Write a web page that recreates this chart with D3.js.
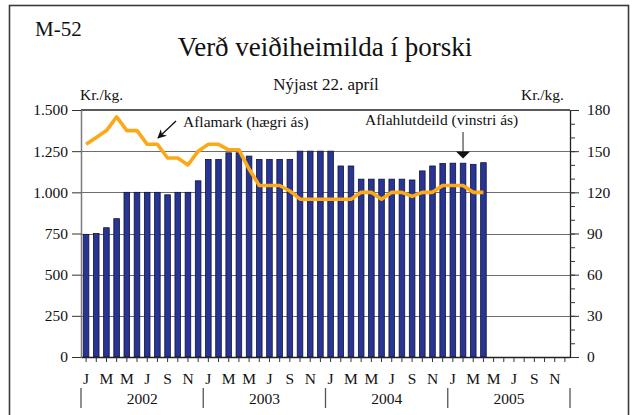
<!DOCTYPE html>
<html>
<head>
<meta charset="utf-8">
<script src="https://cdn.jsdelivr.net/npm/d3@7"></script>
<style>
  html, body { margin: 0; padding: 0; background: #fff; }
  svg { display: block; font-family: "Liberation Serif", "Times New Roman", serif; }
</style>
</head>
<body>
<svg id="chart" width="637" height="415"></svg>
<script>
// Months Jan 2002 – Dec 2005
const years = ["2002", "2003", "2004", "2005"];
const monthInitials = ["J", "F", "M", "A", "M", "J", "J", "A", "S", "O", "N", "D"];
const categories = years.flatMap(y => monthInitials.map((m, i) => `${y}-${String(i + 1).padStart(2, "0")}`));

// Aflahlutdeild, kr./kg. (left axis), Jan 2002 – Apr 2005
const aflahlutdeild = [
  745, 750, 785, 840, 1000, 1000, 1000, 1000, 985, 1000, 1000, 1070,
  1200, 1200, 1240, 1240, 1220, 1200, 1200, 1200, 1200, 1250, 1250, 1250,
  1250, 1160, 1160, 1080, 1080, 1080, 1080, 1080, 1075, 1130, 1160, 1175,
  1177, 1177, 1170, 1180
];

// Aflamark, kr./kg. (right axis), Jan 2002 – Apr 2005
const aflamark = [
  155, 160, 165, 175, 165, 165, 155, 155, 145, 145, 140, 150,
  155, 155, 151, 151, 137, 125, 125, 125, 121, 115, 115, 115,
  115, 115, 115, 120, 120, 115, 120, 120, 117, 120, 120, 125,
  125, 125, 120, 120
];

const leftTicks = [0, 250, 500, 750, 1000, 1250, 1500];
const rightTicks = [0, 30, 60, 90, 120, 150, 180];
const rightMinorTicks = d3.range(0, 181, 10);

const svg = d3.select("#chart");
const plot = { left: 81, right: 570, top: 110, bottom: 357 };

const x = d3.scaleBand().domain(categories).range([plot.left, plot.right]).paddingInner(0.45).paddingOuter(0.22);
const xSlot = d3.scaleBand().domain(categories).range([plot.left, plot.right]);
const yL = d3.scaleLinear().domain([0, 1500]).range([plot.bottom, plot.top]);
const yR = d3.scaleLinear().domain([0, 180]).range([plot.bottom, plot.top]);

const isl = d3.formatLocale({ decimal: ",", thousands: ".", grouping: [3], currency: ["", " kr."] });
const fmt = isl.format(",d");

// outer frame
svg.append("rect")
  .attr("x", 9.5).attr("y", 5.5).attr("width", 619).attr("height", 430)
  .attr("fill", "none").attr("stroke", "#3a3a3a").attr("stroke-width", 1.6);

// headings
svg.append("text").attr("x", 35).attr("y", 36).attr("font-size", 21).attr("fill", "#111").text("M-52");
svg.append("text").attr("x", 325).attr("y", 56).attr("text-anchor", "middle")
  .attr("font-size", 27).attr("fill", "#111").text("Verð veiðiheimilda í þorski");
svg.append("text").attr("x", 326).attr("y", 90).attr("text-anchor", "middle")
  .attr("font-size", 17).attr("fill", "#111").text("Nýjast 22. apríl");
svg.append("text").attr("x", 80).attr("y", 100).attr("font-size", 15.5).attr("fill", "#111").text("Kr./kg.");
svg.append("text").attr("x", 564).attr("y", 100).attr("text-anchor", "end").attr("font-size", 15.5).attr("fill", "#111").text("Kr./kg.");

// horizontal gridlines
svg.append("g").selectAll("line")
  .data(leftTicks.filter(d => d > 0 && d < 1500))
  .join("line")
  .attr("x1", plot.left).attr("x2", plot.right)
  .attr("y1", d => Math.round(yL(d)) + 0.5).attr("y2", d => Math.round(yL(d)) + 0.5)
  .attr("stroke", "#6e6e6e").attr("stroke-width", 1.2);

// top frame line of plot area
svg.append("line")
  .attr("x1", plot.left).attr("x2", plot.right)
  .attr("y1", yL(1500)).attr("y2", yL(1500))
  .attr("stroke", "#222").attr("stroke-width", 1.3);

// bars
svg.append("g").selectAll("rect")
  .data(aflahlutdeild)
  .join("rect")
  .attr("x", (d, i) => x(categories[i]))
  .attr("width", x.bandwidth())
  .attr("y", d => yL(d))
  .attr("height", d => yL(0) - yL(d))
  .attr("fill", "#283593")
  .attr("stroke", "#10143a")
  .attr("stroke-width", 0.8);

// line
const line = d3.line()
  .x((d, i) => xSlot(categories[i]) + xSlot.bandwidth() / 2)
  .y(d => yR(d));
svg.append("path")
  .datum(aflamark)
  .attr("d", line)
  .attr("fill", "none")
  .attr("stroke", "#fba919")
  .attr("stroke-width", 3.6)
  .attr("stroke-linejoin", "round");

// left axis
const axL = svg.append("g").attr("transform", `translate(${plot.left},0)`)
  .call(d3.axisLeft(yL).tickValues(leftTicks).tickFormat(fmt).tickSize(9).tickSizeOuter(0).tickPadding(4));
axL.select(".domain").attr("stroke", "#7a7a7a").attr("stroke-width", 1.5);
axL.selectAll(".tick line").attr("stroke", "#333");
axL.selectAll("text").attr("font-size", 15.5).attr("fill", "#111").attr("font-family", "Liberation Serif, serif");

// right axis (minor ticks, then major ticks with labels)
const axRm = svg.append("g").attr("transform", `translate(${plot.right},0)`)
  .call(d3.axisRight(yR).tickValues(rightMinorTicks).tickFormat("").tickSize(5).tickSizeOuter(0));
axRm.select(".domain").attr("stroke", "#222").attr("stroke-width", 1.3);
axRm.selectAll(".tick line").attr("stroke", "#333");
const axR = svg.append("g").attr("transform", `translate(${plot.right},0)`)
  .call(d3.axisRight(yR).tickValues(rightTicks).tickSize(9).tickSizeOuter(0).tickPadding(8));
axR.select(".domain").remove();
axR.selectAll(".tick line").attr("stroke", "#333");
axR.selectAll("text").attr("font-size", 15.5).attr("fill", "#111").attr("font-family", "Liberation Serif, serif");

// bottom axis: a tick at every month, initials on alternate months
const axB = svg.append("g").attr("transform", `translate(0,${plot.bottom})`)
  .call(d3.axisBottom(xSlot).tickSize(5).tickSizeOuter(0).tickPadding(11)
    .tickFormat((d, i) => i % 2 === 0 ? monthInitials[i % 12] : ""));
axB.select(".domain").attr("stroke", "#222").attr("stroke-width", 1.3);
axB.selectAll(".tick line").attr("stroke", "#333");
axB.selectAll("text").attr("font-size", 15.5).attr("fill", "#111").attr("font-family", "Liberation Serif, serif");

// year row
const yearStart = y => xSlot(`${y}-01`);
const yearEnd = y => xSlot(`${y}-12`) + xSlot.bandwidth();
svg.append("g").selectAll("line")
  .data([...years.map(yearStart), yearEnd(years[years.length - 1])])
  .join("line")
  .attr("x1", d => d).attr("x2", d => d).attr("y1", 388).attr("y2", 408)
  .attr("stroke", "#555").attr("stroke-width", 1.3);
svg.append("g").selectAll("text")
  .data(years)
  .join("text")
  .attr("x", d => (yearStart(d) + yearEnd(d)) / 2)
  .attr("y", 404)
  .attr("text-anchor", "middle")
  .attr("font-size", 15.5).attr("fill", "#111")
  .text(d => d);

// annotations
const defs = svg.append("defs");
defs.append("marker").attr("id", "head").attr("viewBox", "0 0 10 10")
  .attr("refX", 9).attr("refY", 5).attr("markerWidth", 9).attr("markerHeight", 9)
  .attr("markerUnits", "userSpaceOnUse").attr("orient", "auto")
  .append("path").attr("d", "M0,0 L10,5 L0,10 L3,5 Z").attr("fill", "#111");

svg.append("text").attr("x", 183).attr("y", 127).attr("font-size", 15.5).attr("fill", "#111").text("Aflamark (hægri ás)");
svg.append("line").attr("x1", 176).attr("y1", 121).attr("x2", 158).attr("y2", 138)
  .attr("stroke", "#111").attr("stroke-width", 1.3).attr("marker-end", "url(#head)");

svg.append("text").attr("x", 365).attr("y", 125).attr("font-size", 15.5).attr("fill", "#111").text("Aflahlutdeild (vinstri ás)");
const arrowX = xSlot("2005-02") + xSlot.bandwidth() / 2;
svg.append("line").attr("x1", arrowX).attr("x2", arrowX).attr("y1", 132).attr("y2", 152)
  .attr("stroke", "#555").attr("stroke-width", 1.3);
svg.append("path")
  .attr("d", `M${arrowX - 7},151.5 L${arrowX + 7},151.5 L${arrowX},158.5 Z`)
  .attr("fill", "#111");
</script>
</body>
</html>
